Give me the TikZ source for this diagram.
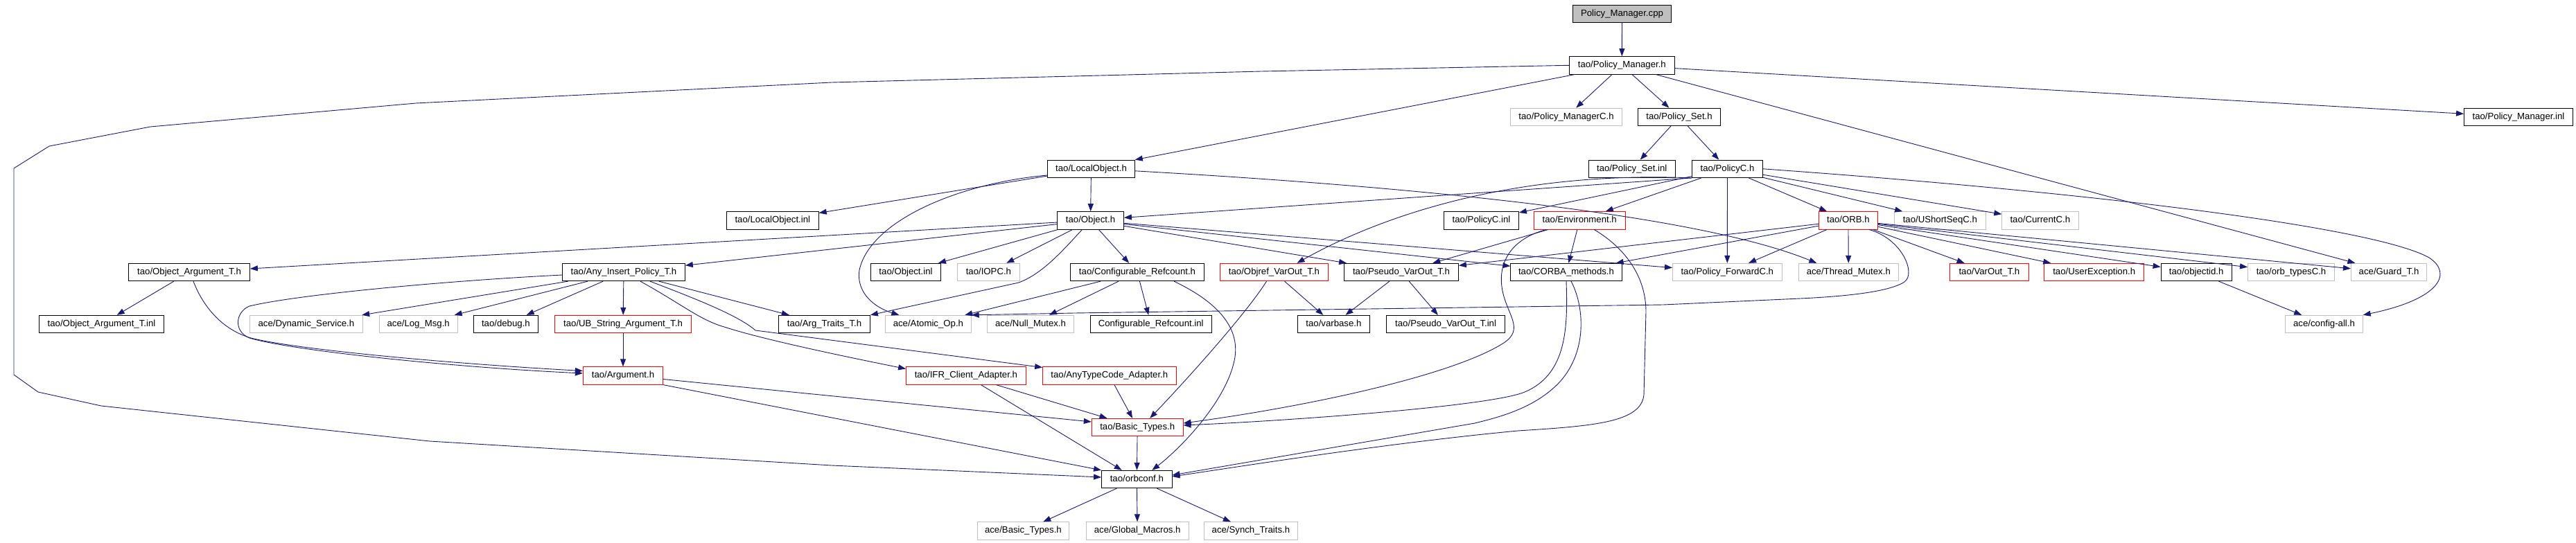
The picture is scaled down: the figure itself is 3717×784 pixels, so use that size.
\documentclass[tikz,border=0pt]{standalone}
\usepackage{fontspec}
\setmainfont{Liberation Sans}
\usetikzlibrary{arrows.meta,calc}
\definecolor{edgeblue}{HTML}{191970}
\definecolor{boxgray}{HTML}{BFBFBF}
\definecolor{boxred}{HTML}{FF0000}
\begin{document}
\begin{tikzpicture}[x=1bp,y=-1bp,
  nbox/.style={draw, line width=0.8bp, minimum height=25.5bp, inner sep=0pt,
    fill=white, text height=9.6bp, text depth=2.7bp,
    font=\fontsize{13.2bp}{15bp}\selectfont},
  nblack/.style={nbox, draw=black},
  ngray/.style={nbox, draw=boxgray},
  nred/.style={nbox, draw=boxred},
  nroot/.style={nbox, draw=black, fill=boxgray},
  lnk/.style={draw=edgeblue, line width=0.9bp, -{Triangle[length=11bp,width=8bp]}}]
\useasboundingbox (0,0) rectangle (3717,784);

% row 1-4
\node[nroot, minimum width=142bp] (cpp) at (2340.5,19.8) {Policy\_Manager.cpp};
\node[nblack, minimum width=152bp] (pmh) at (2340.3,94.3) {tao/Policy\_Manager.h};
\node[ngray, minimum width=160.5bp] (pmc) at (2260,168.8) {tao/Policy\_ManagerC.h};
\node[nblack, minimum width=119.5bp] (pset) at (2423,168.8) {tao/Policy\_Set.h};
\node[nblack, minimum width=157bp] (pminl) at (3634,168.8) {tao/Policy\_Manager.inl};
\node[nblack, minimum width=125bp] (psetinl) at (2354.7,243.8) {tao/Policy\_Set.inl};
\node[nblack, minimum width=102bp] (policyc) at (2492.5,243.8) {tao/PolicyC.h};
\node[nblack, minimum width=125.7bp] (lobj) at (1574.5,243.8) {tao/LocalObject.h};
% row 5
\node[nblack, minimum width=133bp] (lobjinl) at (1114.8,318.3) {tao/LocalObject.inl};
\node[nblack, minimum width=96bp] (object) at (1573.5,318.3) {tao/Object.h};
\node[nblack, minimum width=108bp] (policycinl) at (2137.5,318.3) {tao/PolicyC.inl};
\node[nred, minimum width=132bp] (env) at (2279.2,318.3) {tao/Environment.h};
\node[nred, minimum width=84.6bp] (orb) at (2666.9,318.3) {tao/ORB.h};
\node[ngray, minimum width=132bp] (ushort) at (2799.3,318.3) {tao/UShortSeqC.h};
\node[ngray, minimum width=110.3bp] (current) at (2943.8,318.3) {tao/CurrentC.h};
% row 6
\node[nblack, minimum width=175bp] (objarg) at (273,393) {tao/Object\_Argument\_T.h};
\node[nblack, minimum width=176.8bp] (anyins) at (900,393) {tao/Any\_Insert\_Policy\_T.h};
\node[nblack, minimum width=101bp] (objinl) at (1307,393) {tao/Object.inl};
\node[ngray, minimum width=90bp] (iopc) at (1426.4,393) {tao/IOPC.h};
\node[nblack, minimum width=193bp] (cref) at (1641,393) {tao/Configurable\_Refcount.h};
\node[nred, minimum width=156.3bp] (objref) at (1838.5,393) {tao/Objref\_VarOut\_T.h};
\node[nblack, minimum width=165bp] (pseudo) at (2022,393) {tao/Pseudo\_VarOut\_T.h};
\node[nblack, minimum width=160.5bp] (corba) at (2260,393) {tao/CORBA\_methods.h};
\node[ngray, minimum width=157.8bp] (pfwd) at (2492.3,393) {tao/Policy\_ForwardC.h};
\node[ngray, minimum width=144bp] (tmutex) at (2667.3,393) {ace/Thread\_Mutex.h};
\node[nred, minimum width=114.3bp] (varout) at (2870.4,393) {tao/VarOut\_T.h};
\node[nred, minimum width=144bp] (userexc) at (3021.7,393) {tao/UserException.h};
\node[nblack, minimum width=102.4bp] (objectid) at (3169.2,393) {tao/objectid.h};
\node[ngray, minimum width=125.2bp] (orbtypes) at (3306,393) {tao/orb\_typesC.h};
\node[ngray, minimum width=109.3bp] (guard) at (3447,393) {ace/Guard\_T.h};
% row 7
\node[nblack, minimum width=180bp] (objarginl) at (146.5,468) {tao/Object\_Argument\_T.inl};
\node[ngray, minimum width=163.3bp] (dynsvc) at (441.9,468) {ace/Dynamic\_Service.h};
\node[ngray, minimum width=112.8bp] (logmsg) at (603.7,468) {ace/Log\_Msg.h};
\node[nblack, minimum width=93bp] (debug) at (729.9,468) {tao/debug.h};
\node[nred, minimum width=197bp] (ubstr) at (899,468) {tao/UB\_String\_Argument\_T.h};
\node[nblack, minimum width=132bp] (argtraits) at (1189.5,468) {tao/Arg\_Traits\_T.h};
\node[ngray, minimum width=123.8bp] (atomic) at (1339.4,468) {ace/Atomic\_Op.h};
\node[ngray, minimum width=125bp] (nullmutex) at (1487,468) {ace/Null\_Mutex.h};
\node[nblack, minimum width=174.7bp] (crefinl) at (1660.7,468) {Configurable\_Refcount.inl};
\node[nblack, minimum width=104bp] (varbase) at (1924.4,468) {tao/varbase.h};
\node[nblack, minimum width=171.2bp] (pseudoinl) at (2086.1,468) {tao/Pseudo\_VarOut\_T.inl};
\node[ngray, minimum width=111.5bp] (configall) at (3353.5,468) {ace/config-all.h};
% row 8-11
\node[nred, minimum width=115.5bp] (argument) at (899,542.5) {tao/Argument.h};
\node[nred, minimum width=172.8bp] (ifr) at (1393.9,542.5) {tao/IFR\_Client\_Adapter.h};
\node[nred, minimum width=192.5bp] (anytc) at (1600.8,542.5) {tao/AnyTypeCode\_Adapter.h};
\node[nred, minimum width=132bp] (basic) at (1641.2,617) {tao/Basic\_Types.h};
\node[nblack, minimum width=101.6bp] (orbconf) at (1640.3,692) {tao/orbconf.h};
\node[ngray, minimum width=132.8bp] (acebasic) at (1476.4,766.5) {ace/Basic\_Types.h};
\node[ngray, minimum width=148bp] (globalm) at (1641.2,766.5) {ace/Global\_Macros.h};
\node[ngray, minimum width=135bp] (synch) at (1804.9,766.5) {ace/Synch\_Traits.h};

% edges
\draw[lnk] (cpp) -- (pmh);
\draw[lnk] (pmh) -- (pmc);
\draw[lnk] (pmh) -- (pset);
\draw[lnk] (pmh) -- (pminl);
\draw[lnk] (pmh) -- (guard);
\draw[lnk] (pmh) -- (lobj.north east);
\draw[lnk] (pmh.west) -- (1820,103) -- (1200,119) -- (600,149) -- (217,183) -- (71,211) -- (20,243) -- (20,541) -- (55,566) -- (146,586) -- (620,637) -- (1200,672) -- ($(orbconf.west)+(0,-3)$);
\draw[lnk] (pset) -- (psetinl);
\draw[lnk] (pset) -- (policyc);
\draw[lnk] (policyc) -- (policycinl);
\draw[lnk] (policyc) -- (env);
\draw[lnk] (policyc.south west) .. controls (2150,245) and (1960,330) .. ($(objref.north)+(33,0)$);
\draw[lnk] (policyc.south west) -- ($(object.east)+(0,-4)$);
\draw[lnk] (policyc) -- (pfwd);
\draw[lnk] (policyc) -- (orb);
\draw[lnk] (policyc) -- (ushort);
\draw[lnk] (policyc) -- (current);
\draw[lnk] (policyc.east) .. controls (3050,280) and (3430,330) .. (3505,372) .. controls (3540,395) and (3520,432) .. (configall.north east);
\draw[lnk] (lobj) -- (object);
\draw[lnk] (lobj) -- (lobjinl);
\draw[lnk] ($(lobj.south west)+(0,-4)$) .. controls (1380,265) and (1255,320) .. (1240,390) .. controls (1235,425) and (1265,445) .. ($(atomic.north)+(-42,0)$);
\draw[lnk] ($(lobj.east)+(0,3)$) .. controls (2050,270) and (2450,310) .. ($(tmutex.north)+(-46,0)$);
\draw[lnk] (object) -- (objarg);
\draw[lnk] (object) -- (anyins);
\draw[lnk] (object) -- (objinl);
\draw[lnk] (object) -- (iopc);
\draw[lnk] (object) -- (cref);
\draw[lnk] ($(object.south)+(-12,0)$) .. controls (1535,360) and (1505,395) .. (1470,408) -- (argtraits.north east);
\draw[lnk] (object) -- (pseudo);
\draw[lnk] (object) -- (pfwd);
\draw[lnk] (object) -- (corba);
\draw[lnk] (env) -- (pseudo);
\draw[lnk] (env) -- (corba);
\draw[lnk] ($(env.south)+(-48,0)$) .. controls (2180,345) and (2160,380) .. (2168,420) .. controls (2175,455) and (2200,475) .. (2170,495) .. controls (2100,540) and (1900,585) .. ($(basic.east)+(0,-6)$);
\draw[lnk] ($(env.south)+(21,0)$) .. controls (2340,355) and (2375,395) .. (2375,450) -- (2372,570) .. controls (2368,610) and (2300,615) .. (2190,622) .. controls (2000,640) and (1800,672) .. ($(orbconf.east)+(0,-4)$);
\draw[lnk] (corba.south) .. controls (2262,470) and (2262,540) .. (2200,566) .. controls (2150,587) and (1850,608) .. ($(basic.east)+(0,-3)$);
\draw[lnk] ($(corba.south)+(7,0)$) .. controls (2285,440) and (2292,505) .. (2251,551) .. controls (2215,590) and (2160,603) .. (2128,611) -- ($(orbconf.east)+(0,-6)$);
\draw[lnk] (orb) -- (pseudo);
\draw[lnk] (orb) -- (corba);
\draw[lnk] (orb) -- (pfwd);
\draw[lnk] (orb) -- (tmutex);
\draw[lnk] (orb) -- (varout);
\draw[lnk] (orb) -- (userexc);
\draw[lnk] (orb) -- (objectid);
\draw[lnk] (orb) -- (orbtypes);
\draw[lnk] (orb) -- (guard);
\draw[lnk] ($(orb.south)+(30,0)$) .. controls (2745,345) and (2765,395) .. (2748,407) .. controls (2725,422) and (2660,428) .. (2598,431) -- (2400,440) -- (1550,452) -- (atomic.north east);
\draw[lnk] ($(objref.south)+(-11,0)$) .. controls (1800,450) and (1720,540) .. ($(basic.north)+(18,0)$);
\draw[lnk] (objref) -- (varbase);
\draw[lnk] (pseudo) -- (varbase);
\draw[lnk] (pseudo) -- (pseudoinl);
\draw[lnk] (objectid) -- (configall);
\draw[lnk] (objarg) -- (objarginl);
\draw[lnk] ($(objarg.south)+(6,0)$) .. controls (292,440) and (318,475) .. (362,488) .. controls (430,505) and (650,525) .. ($(argument.west)+(0,-7)$);
\draw[lnk] ($(anyins.west)+(0,4)$) .. controls (650,405) and (430,425) .. (360,442) .. controls (340,450) and (336,478) .. (360,488) .. controls (420,506) and (650,530) .. ($(argument.west)+(0,-3.5)$);
\draw[lnk] (anyins) -- (dynsvc);
\draw[lnk] (anyins) -- (logmsg);
\draw[lnk] (anyins) -- (debug);
\draw[lnk] (anyins) -- (ubstr);
\draw[lnk] (anyins) -- (argtraits);
\draw[lnk] ($(anyins.south)+(24,0)$) .. controls (985,440) and (1010,462) .. (1045,472) .. controls (1100,490) and (1220,515) .. ($(ifr.west)+(0,-10)$);
\draw[lnk] ($(anyins.south)+(38,0)$) .. controls (1000,430) and (1065,455) .. (1090,477) -- ($(anytc.west)+(0,-12)$);
\draw[lnk] (ubstr) -- (argument);
\draw[lnk] ($(argument.east)+(0,5)$) -- ($(basic.west)+(0,-8)$);
\draw[lnk] (argument.south east) -- (orbconf.north west);
\draw[lnk] (ifr) -- (basic);
\draw[lnk] (ifr) -- (orbconf);
\draw[lnk] (anytc) -- (basic);
\draw[lnk] (basic) -- (orbconf);
\draw[lnk] (orbconf) -- (acebasic);
\draw[lnk] (orbconf) -- (globalm);
\draw[lnk] (orbconf) -- (synch);
\draw[lnk] (cref) -- (atomic);
\draw[lnk] (cref) -- (nullmutex);
\draw[lnk] (cref) -- (crefinl);
\draw[lnk] ($(cref.south)+(53,0)$) .. controls (1765,440) and (1792,480) .. (1780,525) .. controls (1765,585) and (1700,650) .. ($(orbconf.north)+(22,0)$);
\end{tikzpicture}
\end{document}
